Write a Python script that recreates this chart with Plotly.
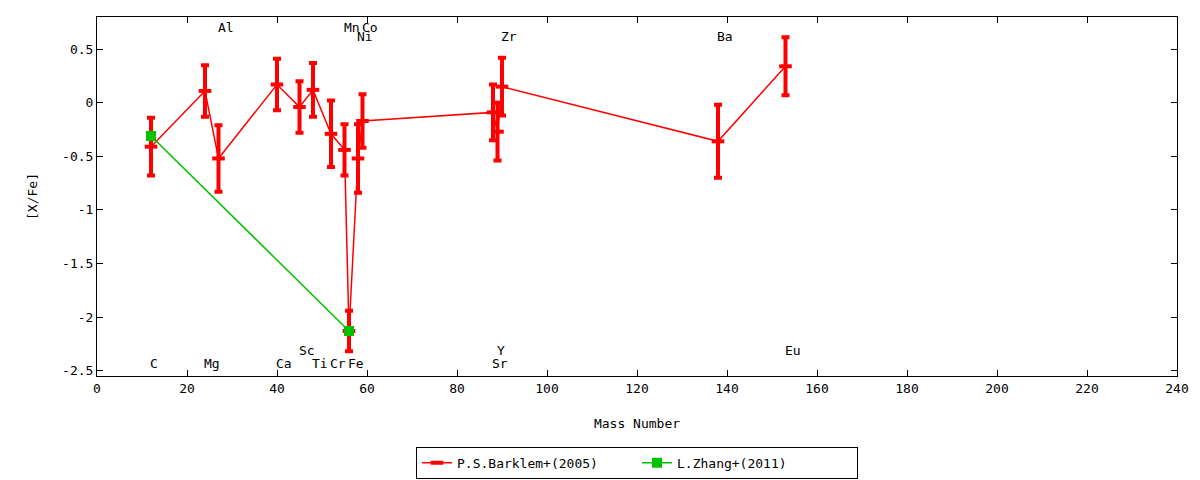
import plotly.graph_objects as go

# P.S.Barklem+(2005): mass number, [X/Fe], error
barklem_el = ["C", "Mg", "Al", "Ca", "Sc", "Ti", "Cr", "Mn", "Fe", "Ni", "Co",
              "Sr", "Y", "Zr", "Ba", "Eu"]
barklem_a = [12, 24, 27, 40, 45, 48, 52, 55, 56, 58, 59, 88, 89, 90, 138, 153]
barklem_xfe = [-0.41, 0.11, -0.52, 0.17, -0.04, 0.12, -0.29, -0.44, -2.13,
               -0.52, -0.17, -0.09, -0.27, 0.15, -0.36, 0.34]
barklem_err = [0.27, 0.24, 0.31, 0.24, 0.24, 0.25, 0.31, 0.24, 0.19,
               0.32, 0.25, 0.26, 0.27, 0.27, 0.34, 0.27]

# L.Zhang+(2011)
zhang_a = [12, 56]
zhang_xfe = [-0.31, -2.13]
zhang_err = [0.0, 0.0]

# element labels: name, mass number, height in [X/Fe]
label_el = ["C", "Mg", "Al", "Ca", "Sc", "Ti", "Cr", "Mn", "Fe", "Co", "Ni",
            "Sr", "Y", "Zr", "Ba", "Eu"]
label_a = [12, 24, 27, 40, 45, 48, 52, 55, 56, 59, 58, 88, 89, 90, 138, 153]
label_y = [-2.43, -2.43, 0.705, -2.43, -2.31, -2.43, -2.43, 0.705, -2.43, 0.705,
           0.62, -2.43, -2.31, 0.62, 0.62, -2.31]

yticks = [0.5, 0, -0.5, -1, -1.5, -2, -2.5]
ytick_text = ["0.5", "0", "-0.5", "-1", "-1.5", "-2", "-2.5"]
xticks = list(range(0, 241, 20))

FONT = "DejaVu Sans Mono"
RED = "#ff0000"
GREEN = "#00c000"

fig = go.Figure()

fig.add_trace(go.Scatter(
    x=barklem_a, y=barklem_xfe, name="P.S.Barklem+(2005)",
    mode="lines+markers",
    line=dict(color=RED, width=1.5),
    marker=dict(symbol="line-ew", size=9, line=dict(color=RED, width=4)),
    error_y=dict(type="data", array=barklem_err, color=RED, thickness=4, width=4),
))

fig.add_trace(go.Scatter(
    x=zhang_a, y=zhang_xfe, name="L.Zhang+(2011)",
    mode="lines+markers",
    line=dict(color=GREEN, width=1.5),
    marker=dict(symbol="square", size=10, color=GREEN),
    error_y=dict(type="data", array=zhang_err, color=GREEN, thickness=4, width=4),
))

for el, a, y in zip(label_el, label_a, label_y):
    fig.add_annotation(x=a, y=y, text=el, showarrow=False, xanchor="left",
                       yanchor="middle", xshift=-3,
                       font=dict(family=FONT, size=13, color="black"))

axis_common = dict(showline=True, linecolor="black", linewidth=1, mirror="allticks",
                   ticks="inside", ticklen=6, tickcolor="black",
                   showgrid=False, zeroline=False, automargin=False,
                   tickfont=dict(family=FONT, size=13, color="black"))

fig.update_xaxes(range=[0, 240], tickvals=xticks,
                 title=dict(text="Mass Number", standoff=24,
                            font=dict(family=FONT, size=13, color="black")),
                 **axis_common)
fig.update_yaxes(range=[-2.55, 0.80], tickvals=yticks, ticktext=ytick_text,
                 title=dict(text="[X/Fe]", standoff=21,
                            font=dict(family=FONT, size=13, color="black")),
                 **axis_common)

fig.update_layout(
    width=1200, height=480,
    margin=dict(l=97, r=23, t=17, b=104, autoexpand=False),
    plot_bgcolor="white", paper_bgcolor="white",
    font=dict(family=FONT, size=13, color="black"),
    legend=dict(orientation="h", x=0.5, xanchor="center", y=-0.197, yanchor="top",
                bordercolor="black", borderwidth=1, entrywidth=175,
                font=dict(family=FONT, size=13, color="black")),
)

# pin the page to exactly the window size
page_css = ("var s='margin:0;padding:0;width:1200px;height:480px;overflow:hidden';"
            "document.documentElement.style.cssText=s;"
            "document.body.style.cssText=s;")
fig.write_html("out.html", config={"displayModeBar": False}, post_script=page_css)
